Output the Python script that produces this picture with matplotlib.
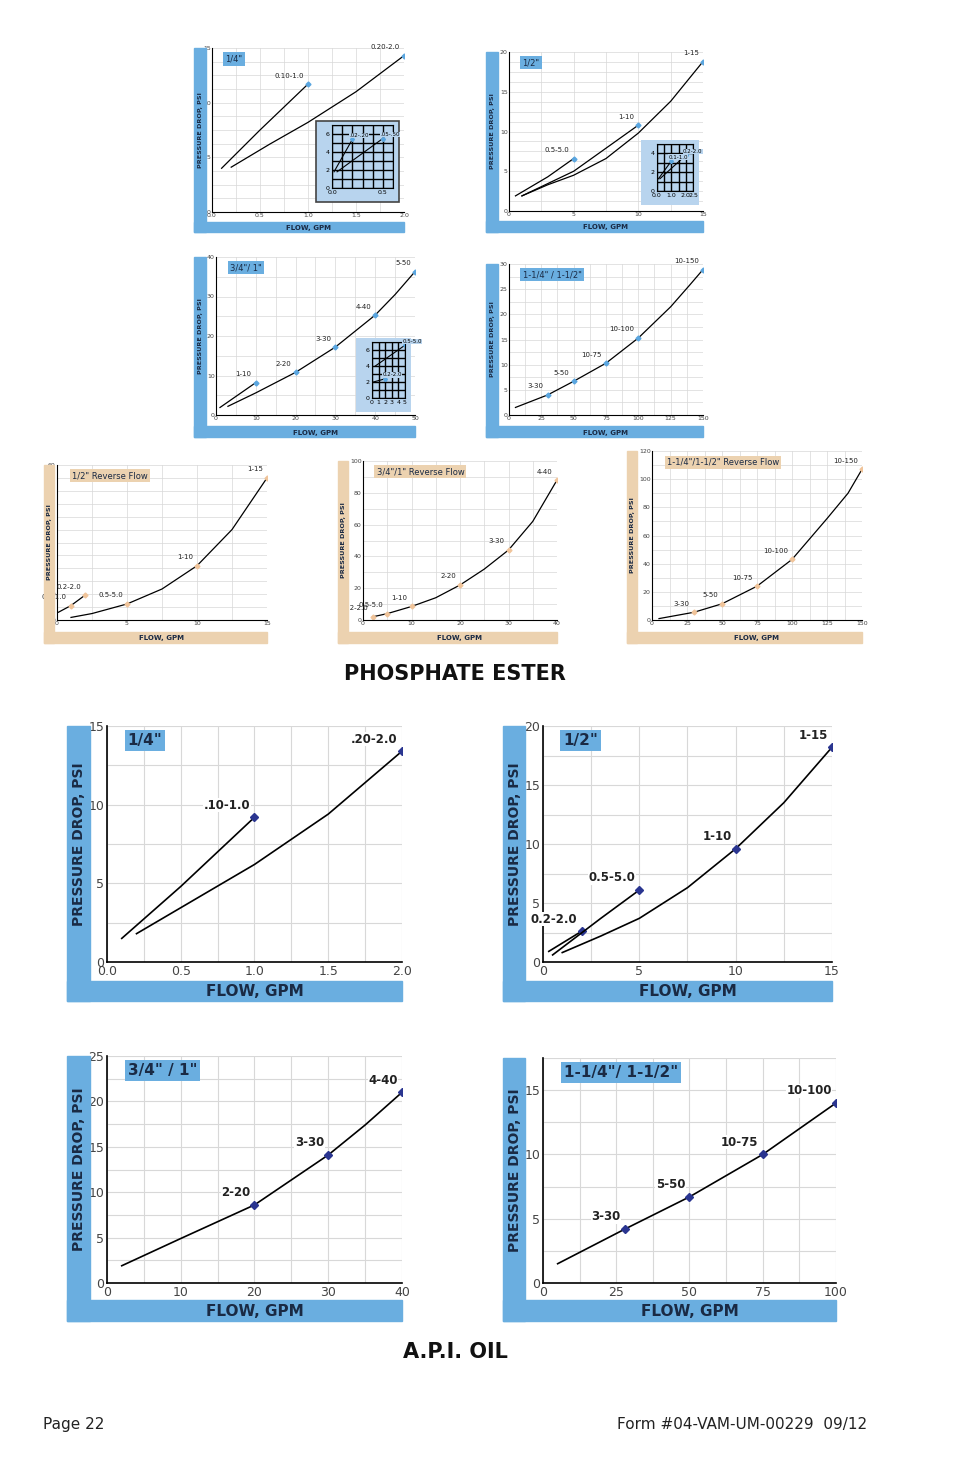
import numpy as np
import matplotlib.pyplot as plt
from matplotlib.patches import Rectangle

W, H = 954, 1475
BLUE = '#6aaee0'
TAN = '#ecd2b0'
INK = '#1a2a44'

# ---- phosphate ester (small charts) ----
p14_c1_x = [0.1, 0.5, 1.0];                 p14_c1_y = [4.0, 7.5, 11.7]
p14_c2_x = [0.2, 0.6, 1.0, 1.5, 2.0];       p14_c2_y = [4.1, 6.2, 8.2, 11.0, 14.3]
p12_c1_x = [0.5, 3, 5];                     p12_c1_y = [1.9, 4.3, 6.6]
p12_c2_x = [1, 5, 10];                      p12_c2_y = [1.9, 5.0, 10.8]
p12_c3_x = [1, 3, 5, 7.5, 10, 12.5, 15];    p12_c3_y = [1.9, 3.3, 4.5, 6.6, 9.8, 13.8, 18.8]
p34_c1_x = [1, 10];                         p34_c1_y = [1.9, 8.2]
p34_c2_x = [3, 10, 20, 30, 40, 45, 50];     p34_c2_y = [2.2, 5.6, 10.8, 17.2, 25.3, 30.5, 36.3]
p114_x = [5, 30, 50, 75, 100, 125, 140, 150]
p114_y = [1.5, 4.0, 6.7, 10.3, 15.3, 21.5, 25.9, 28.9]
r12_c1_x = [0.1, 1, 2];                     r12_c1_y = [3.0, 5.6, 9.6]
r12_c2_x = [1, 2.5, 5, 7.5, 10, 12.5, 15];  r12_c2_y = [1.0, 2.5, 6.2, 12.0, 21.0, 35.0, 55.0]
r34_x = [2, 5, 10, 15, 20, 25, 30, 35, 40]; r34_y = [2, 4, 8.5, 14, 22, 32, 44, 62, 88]
r114_x = [5, 30, 50, 75, 100, 125, 140, 150]
r114_y = [1, 5.5, 11.5, 24, 43, 72, 90, 107]
# ---- A.P.I. oil ----
a14_c1_x = [0.1, 0.5, 1.0];                 a14_c1_y = [1.5, 4.8, 9.2]
a14_c2_x = [0.2, 0.6, 1.0, 1.5, 2.0];       a14_c2_y = [1.8, 4.0, 6.2, 9.4, 13.4]
a12_c1_x = [0.3, 2];                        a12_c1_y = [0.9, 2.6]
a12_c2_x = [0.5, 3, 5];                     a12_c2_y = [0.6, 3.7, 6.1]
a12_c3_x = [1, 3, 5, 7.5, 10, 12.5, 15];    a12_c3_y = [0.8, 2.2, 3.7, 6.3, 9.6, 13.5, 18.2]
a34_x = [2, 10, 20, 30, 35, 40];            a34_y = [1.9, 4.9, 8.6, 14.1, 17.4, 21.0]
a114_x = [5, 28, 50, 75, 100];              a114_y = [1.5, 4.2, 6.7, 10.0, 14.0]

fig = plt.figure(figsize=(W / 100, H / 100), dpi=100)


def px_axes(x0, y0, x1, y1, **kw):
    return fig.add_axes([x0 / W, 1 - y1 / H, (x1 - x0) / W, (y1 - y0) / H], **kw)


def band(bx, ax_rect, bw, by, bh, color, ylabel, big):
    x0, y0, x1, y1 = ax_rect
    fig.patches.append(Rectangle((bx / W, 1 - (by + bh) / H), bw / W, (by + bh - y0) / H,
                                 transform=fig.transFigure, color=color, zorder=0))
    fig.patches.append(Rectangle((bx / W, 1 - (by + bh) / H), (x1 - bx) / W, bh / H,
                                 transform=fig.transFigure, color=color, zorder=0))
    fs = 10 if big else 4.6
    fig.text((bx + bw / 2 + 1) / W, 1 - (y0 + y1) / 2 / H, ylabel, rotation=90, ha='center',
             va='center', fontsize=fs, weight='bold', color=INK)
    fig.text((x0 + x1) / 2 / W, 1 - (by + bh / 2 + 1) / H, 'FLOW, GPM', ha='center',
             va='center', fontsize=11 if big else 5, weight='bold', color=INK)


def chart(rect, bx, bw, by, bh, color, xlim, ylim, xt, yt, xg, yg, title, curves,
          big=False, xfmt=None):
    ax = px_axes(*rect)
    band(bx, rect, bw, by, bh, color, 'PRESSURE DROP, PSI', big)
    ax.set_xlim(*xlim)
    ax.set_ylim(*ylim)
    ax.set_xticks(xt)
    ax.set_yticks(yt)
    if xfmt:
        ax.set_xticklabels([xfmt % v for v in xt])
    ax.set_xticks(np.arange(xlim[0], xlim[1] + 1e-9, xg), minor=True)
    ax.set_yticks(np.arange(ylim[0], ylim[1] + 1e-9, yg), minor=True)
    ax.grid(True, which='both', color='#d8d8d8', lw=0.8 if big else 0.5)
    fs = 8.5 if big else 5
    ax.tick_params(which='both', length=0, labelsize=9 if big else 4.5,
                   labelcolor='#444', pad=2 if big else 1)
    for s in ['top', 'right']:
        ax.spines[s].set_visible(False)
    for s in ['left', 'bottom']:
        ax.spines[s].set_linewidth(1.2 if big else 0.8)
    mc = '#2a3590' if big else ('#f0c49a' if color == TAN else '#5aa6e0')
    for xs, ys, marks in curves:
        ax.plot(xs, ys, color='k', lw=1.2 if big else 0.9)
        for i, lab in marks:
            ax.plot(xs[i], ys[i], 'D', ms=4 if big else 2.5, color=mc)
            ax.annotate(lab, (xs[i], ys[i]), xytext=(-3, 4), textcoords='offset points',
                        ha='right', va='bottom',
                        fontsize=fs, weight='bold' if big else 'normal', color='#222',
                        bbox=dict(fc='white', ec='none', pad=0.3) if big else None)
    ax.text(0.07, 0.97 if big else 0.96, title, transform=ax.transAxes, va='top',
            fontsize=11 if big else 6, weight='bold' if big else 'normal', color=INK,
            bbox=dict(fc=color, ec='none', pad=2 if big else 1.5))
    return ax


def inset(rect, xlim, ylim, xt, yt, xg, yg, lines, border):
    x0, y0, x1, y1 = rect
    fig.patches.append(Rectangle((x0 / W, 1 - y1 / H), (x1 - x0) / W, (y1 - y0) / H,
                                 transform=fig.transFigure, fc='#b8d4ee',
                                 ec='#444' if border else 'none', lw=1.2, zorder=3))
    ax = px_axes(x0 + 16, y0 + 4, x1 - 6, y1 - 14)
    ax.set_facecolor('#b8d4ee')
    ax.set_zorder(4)
    ax.set_xlim(*xlim)
    ax.set_ylim(*ylim)
    ax.set_xticks(xt)
    ax.set_yticks(yt)
    ax.set_xticks(np.arange(xlim[0], xlim[1] + 1e-9, xg), minor=True)
    ax.set_yticks(np.arange(ylim[0], ylim[1] + 1e-9, yg), minor=True)
    ax.grid(True, which='both', color='k', lw=1)
    ax.tick_params(which='both', length=0, labelsize=4.5, pad=1.5)
    for s in ax.spines.values():
        s.set_color('k')
    for xs, ys, lab in lines:
        ax.plot(xs, ys, color='k', lw=0.8)
        ax.plot(xs[-1], ys[-1], 'D', ms=2, color='#5aa6e0')
        ax.annotate(lab, (xs[-1], ys[-1]), xytext=(-2, 1), textcoords='offset points',
                    fontsize=4, ha='left', va='bottom',
                    bbox=dict(fc='#b8d4ee', ec='none', pad=0.2))


# ---------------- PHOSPHATE ESTER ----------------
chart((212, 48, 404, 212), 194, 12, 222, 10, BLUE, (0, 2), (0, 15), [0, 0.5, 1, 1.5, 2],
      [0, 5, 10, 15], 0.25, 1.25, '1/4"',
      [(p14_c1_x, p14_c1_y, [(2, '0.10-1.0')]), (p14_c2_x, p14_c2_y, [(4, '0.20-2.0')])],
      xfmt='%.1f')
inset((316, 121, 399, 202), (0, 0.6), (0, 7), [0, 0.5], [0, 2, 4, 6], 0.1, 1,
      [([0.02, 0.2], [1.8, 5.4], '.02-.20'), ([0.05, 0.5], [1.8, 5.5], '.05-.50')], True)

chart((509, 52, 703, 211), 486, 12, 221, 11, BLUE, (0, 15), (0, 20), [0, 5, 10, 15],
      [0, 5, 10, 15, 20], 2.5, 1.25, '1/2"',
      [(p12_c1_x, p12_c1_y, [(2, '0.5-5.0')]), (p12_c2_x, p12_c2_y, [(2, '1-10')]),
       (p12_c3_x, p12_c3_y, [(6, '1-15')])])
inset((641, 140, 699, 205), (0, 2.5), (0, 5), [0, 1, 2, 2.5], [0, 2, 4], 0.5, 1,
      [([0.1, 1], [1.3, 3.2], '0.1-1.0'), ([0.2, 2], [1.3, 3.8], '0.2-2.0')], False)

chart((216, 257, 415, 415), 194, 12, 426, 11, BLUE, (0, 50), (0, 40),
      [0, 10, 20, 30, 40, 50], [0, 10, 20, 30, 40], 5, 5, '3/4"/ 1"',
      [(p34_c1_x, p34_c1_y, [(1, '1-10')]),
       (p34_c2_x, p34_c2_y, [(2, '2-20'), (3, '3-30'), (4, '4-40'), (6, '5-50')])])
inset((356, 338, 411, 412), (0, 5), (0, 7), [0, 1, 2, 3, 4, 5], [0, 2, 4, 6], 1, 1,
      [([0.5, 5], [4, 6.6], '0.5-5.0'), ([0.2, 2], [2, 2.4], '0.2-2.0')], False)

chart((509, 264, 703, 415), 486, 12, 426, 11, BLUE, (0, 150), (0, 30),
      [0, 25, 50, 75, 100, 125, 150], [0, 5, 10, 15, 20, 25, 30], 12.5, 2.5,
      '1-1/4" / 1-1/2"',
      [(p114_x, p114_y, [(1, '3-30'), (2, '5-50'), (3, '10-75'), (4, '10-100'),
                         (7, '10-150')])])

chart((57, 465, 267, 620), 44, 10, 632, 11, TAN, (0, 15), (0, 60), [0, 5, 10, 15],
      [0, 10, 20, 30, 40, 50, 60], 2.5, 5, '1/2" Reverse Flow',
      [(r12_c1_x, r12_c1_y, [(1, '0.1-1.0'), (2, '0.2-2.0')]),
       (r12_c2_x, r12_c2_y, [(2, '0.5-5.0'), (4, '1-10'), (6, '1-15')])])

chart((363, 461, 557, 620), 338, 10, 632, 11, TAN, (0, 40), (0, 100),
      [0, 10, 20, 30, 40], [0, 20, 40, 60, 80, 100], 5, 10, '3/4"/1" Reverse Flow',
      [(r34_x, r34_y, [(0, '0.2-2.0'), (1, '0.5-5.0'), (2, '1-10'), (4, '2-20'),
                       (6, '3-30'), (8, '4-40')])])

chart((652, 451, 862, 620), 627, 10, 632, 11, TAN, (0, 150), (0, 120),
      [0, 25, 50, 75, 100, 125, 150], [0, 20, 40, 60, 80, 100, 120], 12.5, 10,
      '1-1/4"/1-1/2" Reverse Flow',
      [(r114_x, r114_y, [(1, '3-30'), (2, '5-50'), (3, '10-75'), (4, '10-100'),
                         (7, '10-150')])])

fig.text(455 / W, 1 - 674 / H, 'PHOSPHATE ESTER', ha='center', va='center', fontsize=15,
         weight='bold', color='#111')

# ---------------- A.P.I. OIL ----------------
chart((107, 726, 402, 962), 67, 23, 981, 20, BLUE, (0, 2), (0, 15), [0, 0.5, 1, 1.5, 2],
      [0, 5, 10, 15], 0.25, 2.5, '1/4"',
      [(a14_c1_x, a14_c1_y, [(2, '.10-1.0')]), (a14_c2_x, a14_c2_y, [(4, '.20-2.0')])],
      big=True, xfmt='%.1f')
chart((543, 726, 832, 962), 503, 22, 981, 20, BLUE, (0, 15), (0, 20), [0, 5, 10, 15],
      [0, 5, 10, 15, 20], 2.5, 2.5, '1/2"',
      [(a12_c1_x, a12_c1_y, [(1, '0.2-2.0')]), (a12_c2_x, a12_c2_y, [(2, '0.5-5.0')]),
       (a12_c3_x, a12_c3_y, [(4, '1-10'), (6, '1-15')])], big=True)
chart((107, 1056, 402, 1283), 67, 23, 1300, 21, BLUE, (0, 40), (0, 25),
      [0, 10, 20, 30, 40], [0, 5, 10, 15, 20, 25], 5, 2.5, '3/4" / 1"',
      [(a34_x, a34_y, [(2, '2-20'), (3, '3-30'), (5, '4-40')])], big=True)
chart((543, 1058, 836, 1283), 503, 22, 1300, 21, BLUE, (0, 100), (0, 17.5),
      [0, 25, 50, 75, 100], [0, 5, 10, 15], 12.5, 2.5, '1-1/4"/ 1-1/2"',
      [(a114_x, a114_y, [(1, '3-30'), (2, '5-50'), (3, '10-75'), (4, '10-100')])],
      big=True)

fig.text(455 / W, 1 - 1352 / H, 'A.P.I. OIL', ha='center', va='center', fontsize=15,
         weight='bold', color='#111')
fig.text(43 / W, 1 - 1425 / H, 'Page 22', ha='left', va='center', fontsize=11, color='#222')
fig.text(867 / W, 1 - 1425 / H, 'Form #04-VAM-UM-00229  09/12', ha='right', va='center',
         fontsize=11, color='#222')

fig.savefig('out.png', dpi=100)
